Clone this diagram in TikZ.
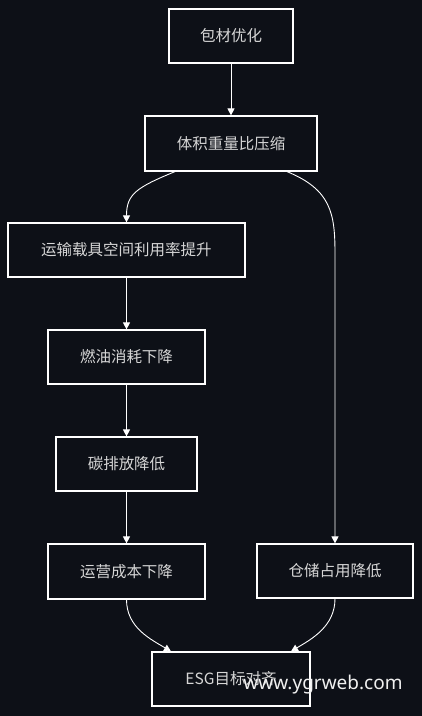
\documentclass[tikz,border=0pt]{standalone}
\usepackage{fontspec}
\setmainfont{Noto Sans CJK SC}
\newfontfamily\wmfont{Noto Sans}
\usetikzlibrary{arrows.meta,calc}
\definecolor{bgc}{HTML}{0D1017}
\definecolor{txtc}{HTML}{D6D6D6}
\begin{document}
\begin{tikzpicture}[x=1pt,y=-1pt,
  box/.style={draw=white,line width=1.2pt,fill=bgc,text=txtc,inner sep=0pt,
    font=\fontsize{15.5}{18}\selectfont},
  conn/.style={draw=white,line width=0.9pt,-{Triangle[length=7pt,width=7pt]}}]
\fill[bgc] (0,0) rectangle (422,716);
\useasboundingbox (0,0) rectangle (422,716);
\node[box,minimum width=124pt,minimum height=54pt] (a) at (231,36) {包材优化};
\node[box,minimum width=172pt,minimum height=55pt] (b) at (231,143.5) {体积重量比压缩};
\node[box,minimum width=237pt,minimum height=54pt] (c) at (126.5,250) {运输载具空间利用率提升};
\node[box,minimum width=157pt,minimum height=54pt] (d) at (126.5,357) {燃油消耗下降};
\node[box,minimum width=141pt,minimum height=54pt] (e) at (126.5,464) {碳排放降低};
\node[box,minimum width=157pt,minimum height=55pt] (f) at (126.5,571.5) {运营成本下降};
\node[box,minimum width=156pt,minimum height=54pt] (g) at (335,571) {仓储占用降低};
\node[box,minimum width=158pt,minimum height=54pt] (h) at (231,679) {ESG目标对齐};
\draw[conn] (a) -- (b);
\draw[conn] ($(b.south)+(-56,0)$) .. controls ($(b.south)+(-95,16)$) and ($(c.north)+(0,-28)$) .. (c.north);
\draw[conn] ($(b.south)+(56,0)$) .. controls ($(b.south)+(100,18)$) and ($(g.north)+(0,-330)$) .. ($(g.north)+(0,-290)$) -- (g.north);
\draw[conn] (c) -- (d);
\draw[conn] (d) -- (e);
\draw[conn] (e) -- (f);
\draw[conn] (f.south) .. controls ($(f.south)+(0,28)$) and ($(h.north)+(-80,-12)$) .. ($(h.north)+(-60,0)$);
\draw[conn] (g.south) .. controls ($(g.south)+(0,28)$) and ($(h.north)+(80,-12)$) .. ($(h.north)+(60,0)$);
\node[text=white!88!gray,font=\wmfont\fontsize{19}{21}\selectfont,inner sep=0pt] (wm) at (323,685) {www.ygrweb.com};
\end{tikzpicture}
\end{document}
